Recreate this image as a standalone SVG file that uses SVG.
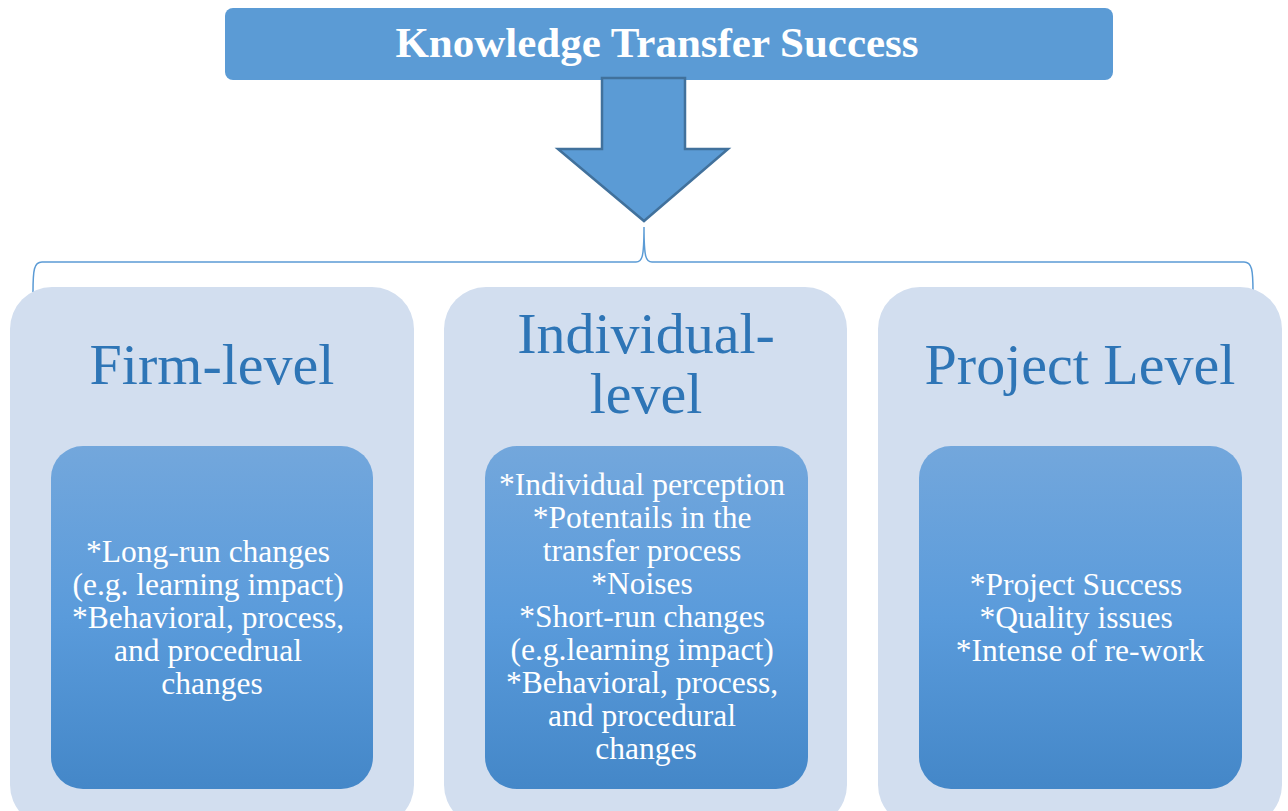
<svg xmlns="http://www.w3.org/2000/svg" width="1288" height="811" viewBox="0 0 1288 811">
  <defs>
    <linearGradient id="innerFill" x1="0" y1="0" x2="0" y2="1">
      <stop offset="0" stop-color="#73a7dc"/>
      <stop offset="0.5" stop-color="#5a9bdb"/>
      <stop offset="1" stop-color="#4487c8"/>
    </linearGradient>
    <style>
      .outer { fill: #d2deef; }
      .inner { fill: url(#innerFill); }
      .head { font-family: "Liberation Serif", "Times New Roman", serif; font-size: 58px; fill: #2e75b6; text-anchor: middle; }
      .body { font-family: "Liberation Serif", "Times New Roman", serif; font-size: 31.5px; fill: #ffffff; text-anchor: middle; }
      .title { font-family: "Liberation Serif", "Times New Roman", serif; font-size: 43px; font-weight: bold; fill: #ffffff; text-anchor: middle; }
      .brace { fill: none; stroke: #5b9bd5; stroke-width: 1.5; }
    </style>
  </defs>

  <!-- top banner -->
  <g id="title">
    <rect x="225" y="8" width="888" height="72" rx="8" fill="#5b9bd5"/>
    <text class="title" x="657" y="57">Knowledge Transfer Success</text>
  </g>

  <!-- connectors: block arrow and bracket -->
  <g id="connectors">
    <polygon points="602,78 685,78 685,149 728,149 644,221 558,149 602,149" fill="#5b9bd5" stroke="#41719c" stroke-width="2.5" stroke-linejoin="miter"/>
    <path class="brace" d="M33,292 C33,270 34,262 42,262 L636,262 C642,262 644,258 644,227 C644,258 646,262 652,262 L1244,262 C1252,262 1253,270 1253,292"/>
  </g>

  <!-- firm level -->
  <g id="firm-level">
    <rect class="outer" x="10" y="287" width="404" height="540" rx="42"/>
    <text class="head" x="212" y="384">Firm-level</text>
    <rect class="inner" x="51" y="446" width="322" height="343" rx="32"/>
    <text class="body" x="212">
      <tspan x="212" y="562">*Long-run changes</tspan>
      <tspan x="212" y="595">(e.g. learning impact)</tspan>
      <tspan x="212" y="628">*Behavioral, process,</tspan>
      <tspan x="212" y="661">and procedrual</tspan>
      <tspan x="212" y="694">changes</tspan>
    </text>
  </g>

  <!-- individual level -->
  <g id="individual-level">
    <rect class="outer" x="444" y="287" width="403" height="540" rx="42"/>
    <text class="head" x="646" y="353">Individual-</text>
    <text class="head" x="646" y="413">level</text>
    <rect class="inner" x="485" y="446" width="323" height="343" rx="32"/>
    <text class="body">
      <tspan x="646" y="495">*Individual perception</tspan>
      <tspan x="646" y="528">*Potentails in the</tspan>
      <tspan x="646" y="561">transfer process</tspan>
      <tspan x="646" y="594">*Noises</tspan>
      <tspan x="646" y="627">*Short-run changes</tspan>
      <tspan x="646" y="660">(e.g.learning impact)</tspan>
      <tspan x="646" y="693">*Behavioral, process,</tspan>
      <tspan x="646" y="726">and procedural</tspan>
      <tspan x="646" y="759">changes</tspan>
    </text>
  </g>

  <!-- project level -->
  <g id="project-level">
    <rect class="outer" x="878" y="287" width="404" height="540" rx="42"/>
    <text class="head" x="1080" y="384">Project Level</text>
    <rect class="inner" x="919" y="446" width="323" height="343" rx="32"/>
    <text class="body">
      <tspan x="1080" y="595">*Project Success</tspan>
      <tspan x="1080" y="628">*Quality issues</tspan>
      <tspan x="1080" y="661">*Intense of re-work</tspan>
    </text>
  </g>
</svg>
